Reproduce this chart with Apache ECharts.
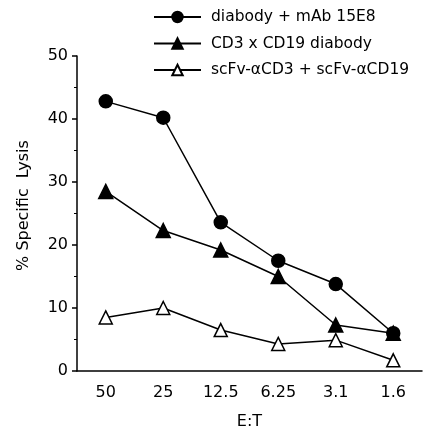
<!DOCTYPE html>
<html>
<head>
<meta charset="utf-8">
<script src="https://cdn.jsdelivr.net/npm/echarts@6/dist/echarts.min.js"></script>
<style>
  html, body { margin: 0; padding: 0; background: #fff; }
  #chart { width: 427px; height: 430px; }
</style>
</head>
<body>
<div id="chart"></div>
<script>
  // E:T ratios
  var ratios = ['50', '25', '12.5', '6.25', '3.1', '1.6'];
  var yTicks = [0, 10, 20, 30, 40, 50];

  var diabodyMab = [42.8, 40.2, 23.6, 17.5, 13.8, 6.0];
  var diabody = [28.5, 22.3, 19.2, 15.0, 7.3, 6.0];
  var scfvMix = [8.5, 10.0, 6.5, 4.3, 4.9, 1.7];

  var names = ['diabody + mAb 15E8', 'CD3 x CD19 diabody', 'scFv-\u03b1CD3 + scFv-\u03b1CD19'];

  var font = 'DejaVu Sans, sans-serif';

  function makeSeries(name, data, symbol, size, fill) {
    return {
      name: name,
      type: 'line',
      data: data,
      symbol: symbol,
      symbolSize: size,
      showAllSymbol: true,
      lineStyle: { color: '#000', width: 1.5 },
      itemStyle: { color: fill, borderColor: '#000', borderWidth: 1.5 },
      emphasis: { disabled: true },
      z: 3
    };
  }

  var myChart = echarts.init(document.getElementById('chart'));
  var options = {
    animation: false,
    backgroundColor: '#fff',
    legend: {
      orient: 'vertical',
      left: 153,
      top: 9,
      padding: 0,
      itemWidth: 47,
      itemHeight: 13,
      itemGap: 10.5,
      data: names,
      textStyle: {
        color: '#000',
        fontSize: 15.5,
        fontFamily: font,
        padding: [0, 0, 0, 5]
      }
    },
    grid: {
      left: 77,
      right: 5,
      top: 56,
      bottom: 59,
      containLabel: false,
      outerBoundsMode: 'none'
    },
    xAxis: {
      type: 'category',
      data: ratios,
      boundaryGap: true,
      name: 'E:T',
      nameLocation: 'middle',
      nameGap: 43,
      nameTextStyle: { color: '#000', fontSize: 16, fontFamily: font },
      axisLine: { lineStyle: { color: '#000', width: 1.5 } },
      axisTick: { alignWithLabel: true, length: 4, lineStyle: { color: '#000', width: 1.5 } },
      axisLabel: { color: '#000', fontSize: 16, fontFamily: font, margin: 14 },
      splitLine: { show: false }
    },
    yAxis: {
      type: 'value',
      min: yTicks[0],
      max: yTicks[yTicks.length - 1],
      interval: 10,
      name: '% Specific  Lysis',
      nameLocation: 'middle',
      nameGap: 45,
      nameTextStyle: { color: '#000', fontSize: 16, fontFamily: font, padding: [0, 0, 0, 16] },
      axisLine: { show: true, lineStyle: { color: '#000', width: 1.5 } },
      axisTick: { show: true, length: 5, lineStyle: { color: '#000', width: 1.5 } },
      minorTick: { show: true, splitNumber: 2, length: 3, lineStyle: { color: '#000', width: 1 } },
      axisLabel: { color: '#000', fontSize: 16, fontFamily: font, margin: 9 },
      splitLine: { show: false }
    },
    series: [
      makeSeries(names[0], diabodyMab, 'circle', 13, '#000'),
      makeSeries(names[1], diabody, 'triangle', 14, '#000'),
      makeSeries(names[2], scfvMix, 'triangle', 13, '#fff')
    ]
  };
  myChart.setOption(options);
</script>
</body>
</html>
